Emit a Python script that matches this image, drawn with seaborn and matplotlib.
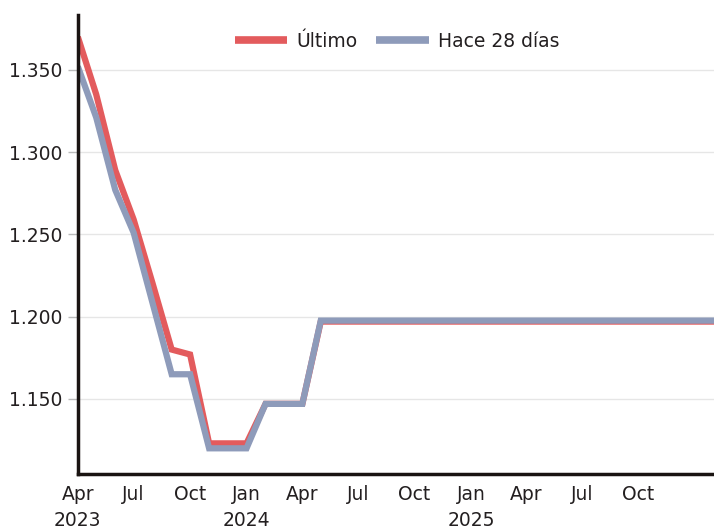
import matplotlib
matplotlib.use("Agg")
import matplotlib.pyplot as plt
import matplotlib.ticker as mticker
import seaborn as sns
import pandas as pd

# ---- data ----
months = pd.date_range("2023-04-01", "2026-02-01", freq="MS")
ultimo = [1370, 1335, 1289, 1259, 1220, 1180, 1177, 1123, 1123, 1123, 1147, 1147, 1147,
          1197, 1197, 1197, 1197, 1197, 1197, 1197, 1197, 1197, 1197, 1197, 1197, 1197,
          1197, 1197, 1197, 1197, 1197, 1197, 1197, 1197, 1197]
hace28 = [1352, 1321, 1277, 1251, 1208, 1165, 1165, 1120, 1120, 1120, 1147, 1147, 1147,
          1197.6, 1197.6, 1197.6, 1197.6, 1197.6, 1197.6, 1197.6, 1197.6, 1197.6, 1197.6,
          1197.6, 1197.6, 1197.6, 1197.6, 1197.6, 1197.6, 1197.6, 1197.6, 1197.6, 1197.6,
          1197.6, 1197.6]
series_names = ["Último", "Hace 28 días"]
colors = ["#E35B5D", "#8E9BBA"]
tick_dates = pd.date_range("2023-04-01", "2025-10-01", freq="QS-JAN")
tick_labels = ["Apr\n2023", "Jul", "Oct", "Jan\n2024", "Apr", "Jul", "Oct",
               "Jan\n2025", "Apr", "Jul", "Oct"]
y_ticks = [1150, 1200, 1250, 1300, 1350]

df = pd.DataFrame({
    "fecha": list(months) * 2,
    "valor": ultimo + hace28,
    "serie": [series_names[0]] * len(months) + [series_names[1]] * len(months),
})

sns.set_theme(style="white")
plt.rcParams["font.family"] = ["DejaVu Sans"]
TXT = "#231F20"

fig = plt.figure(figsize=(7.14, 5.29), dpi=100)
ax = fig.add_axes([0.109, 0.104, 0.891, 0.868])

sns.lineplot(data=df, x="fecha", y="valor", hue="serie", hue_order=series_names,
             palette=colors, linewidth=4.5, ax=ax, legend=True)
for ln in ax.get_lines():
    ln.set_solid_capstyle("butt")
    ln.set_solid_joinstyle("miter")

ax.set_xlim(months[0], months[-1])
ax.set_ylim(1104.4, 1383.4)
ax.set_yticks(y_ticks)
ax.yaxis.set_major_formatter(mticker.FuncFormatter(lambda v, p: f"{v/1000:.3f}"))
ax.set_xticks(tick_dates)
ax.set_xticklabels(tick_labels, linespacing=1.45)
ax.grid(axis="y", color="#E6E6E6", linewidth=1)
ax.set_axisbelow(True)
ax.set_xlabel("")
ax.set_ylabel("")

for s in ["top", "right"]:
    ax.spines[s].set_visible(False)
for s in ["left", "bottom"]:
    ax.spines[s].set_color("#1a1412")
    ax.spines[s].set_linewidth(2.5)

ax.tick_params(axis="y", which="major", length=7, width=1, color="#BBBBBB",
               labelsize=13.5, labelcolor=TXT, pad=4, left=True)
ax.tick_params(axis="x", which="major", length=0, labelsize=13.5,
               labelcolor=TXT, pad=8)

leg = ax.legend(loc="upper center", bbox_to_anchor=(0.502, 1.0), ncol=2, frameon=False,
                fontsize=13.5, handlelength=2.8, columnspacing=1.0, handletextpad=0.5,
                labelcolor=TXT)
for h in leg.get_lines():
    h.set_linewidth(5.5)
    h.set_solid_capstyle("butt")

fig.savefig("out.png", dpi=100)
